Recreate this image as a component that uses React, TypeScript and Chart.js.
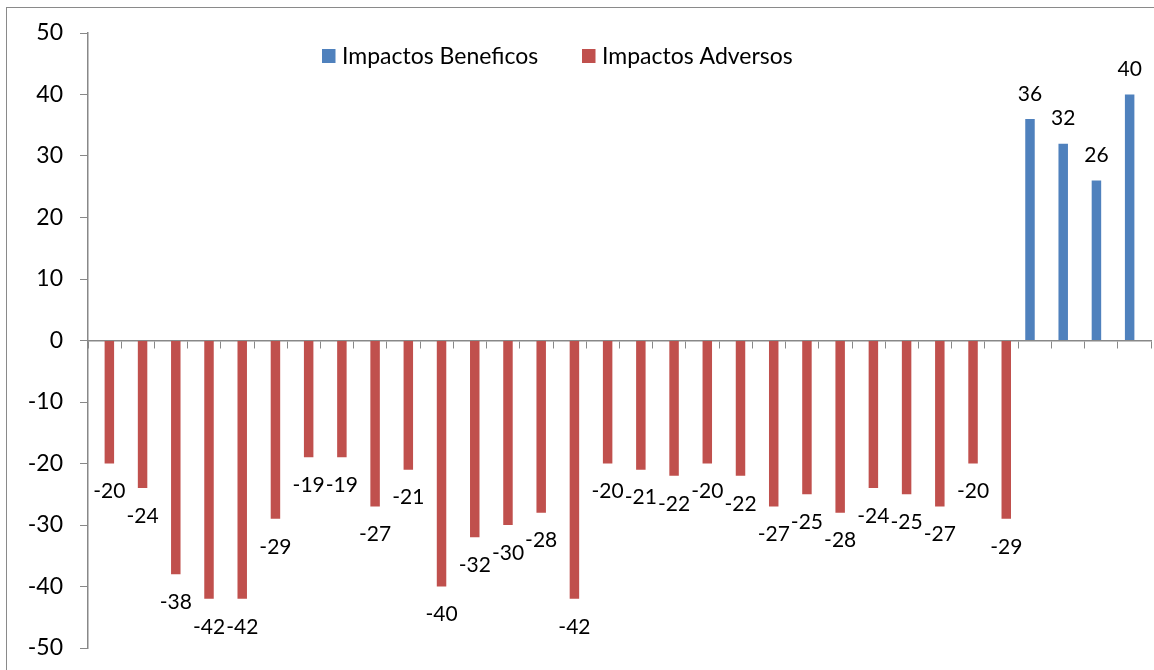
import React, { useEffect, useRef } from "react";
import { Chart, registerables } from "chart.js";

Chart.register(...registerables);

const categories: string[] = Array.from({ length: 32 }, (_, i) => `${i + 1}`);
const beneficos: (number | null)[] = [
  null, null, null, null, null, null, null, null, null, null, null, null, null, null,
  null, null, null, null, null, null, null, null, null, null, null, null, null, null,
  36, 32, 26, 40,
];
const adversos: (number | null)[] = [
  -20, -24, -38, -42, -42, -29, -19, -19, -27, -21, -40, -32, -30, -28,
  -42, -20, -21, -22, -20, -22, -27, -25, -28, -24, -25, -27, -20, -29,
  null, null, null, null,
];
const seriesNames = ["Impactos Beneficos", "Impactos Adversos"];
const colors = ["#4F81BD", "#C0504D"];
const yMin = -50;
const yMax = 50;
const yStep = 10;

const FONT = "Lato, 'Liberation Sans', sans-serif";

const labelPlugin = {
  id: "valueLabels",
  afterDatasetsDraw(chart: any) {
    const ctx = chart.ctx;
    ctx.save();
    ctx.font = `21px ${FONT}`;
    ctx.fillStyle = "#000";
    ctx.textAlign = "center";
    ctx.textBaseline = "middle";
    chart.data.datasets.forEach((ds: any, di: number) => {
      const meta = chart.getDatasetMeta(di);
      meta.data.forEach((el: any, i: number) => {
        const v = ds.data[i];
        if (v === null || v === undefined) return;
        const y = v < 0 ? el.y + 28 : el.y - 25;
        ctx.fillText(String(v), el.x, y);
      });
    });
    ctx.restore();
  },
};

const legendPlugin = {
  id: "customLegend",
  afterDraw(chart: any) {
    const ctx = chart.ctx;
    ctx.save();
    ctx.font = `23px ${FONT}`;
    ctx.textBaseline = "middle";
    ctx.textAlign = "left";
    const positions = [322, 582];
    seriesNames.forEach((name, i) => {
      const x = positions[i];
      ctx.fillStyle = colors[i];
      ctx.fillRect(x, 49, 13.5, 14);
      ctx.fillStyle = "#000";
      ctx.fillText(name, x + 20, 57);
    });
    ctx.restore();
  },
};

export default function App() {
  const ref = useRef<HTMLCanvasElement | null>(null);
  useEffect(() => {
    if (!ref.current) return;
    const chart = new Chart(ref.current, {
      type: "bar",
      data: {
        labels: categories,
        datasets: [
          {
            label: seriesNames[0],
            data: beneficos,
            backgroundColor: colors[0],
            categoryPercentage: 0.571,
            barPercentage: 1.0,
          },
          {
            label: seriesNames[1],
            data: adversos,
            backgroundColor: colors[1],
            categoryPercentage: 0.571,
            barPercentage: 1.0,
          },
        ],
      },
      options: {
        animation: false,
        responsive: false,
        maintainAspectRatio: false,
        layout: { padding: { left: 0, top: 33, right: 3, bottom: 22 } },
        plugins: {
          legend: { display: false },
          tooltip: { enabled: false },
        },
        scales: {
          x: {
            position: { y: 0 } as any,
            ticks: { display: false },
            grid: {
              drawOnChartArea: false,
              drawTicks: true,
              tickLength: 7,
              color: "#888888",
              offset: true,
            },
            border: { display: true, color: "#888888", width: 1.5 },
            afterFit: (s: any) => {
              s.height = 0;
              s.paddingTop = 0;
              s.paddingBottom = 0;
            },
          },
          y: {
            min: yMin,
            max: yMax,
            ticks: {
              stepSize: yStep,
              color: "#000",
              font: { family: FONT, size: 23 },
              padding: 17,
            },
            grid: {
              drawOnChartArea: false,
              drawTicks: true,
              tickLength: 8,
              color: "#888888",
            },
            border: { display: true, color: "#888888", width: 1.5 },
            afterFit: (s: any) => {
              s.width = 88;
              s.paddingTop = 0;
              s.paddingBottom = 0;
            },
          },
        },
      },
      plugins: [labelPlugin, legendPlugin],
    });
    return () => chart.destroy();
  }, []);

  return (
    <div
      style={{
        position: "fixed",
        left: 0,
        top: 0,
        width: 1154,
        height: 670,
        overflow: "hidden",
        background: "#fff",
      }}
    >
      <div
        style={{
          position: "absolute",
          left: 6,
          top: 7,
          width: 1300,
          height: 800,
          borderLeft: "1.5px solid #8a8a8a",
          borderTop: "1.5px solid #8a8a8a",
        }}
      />
      <canvas
        ref={ref}
        width={1154}
        height={670}
        style={{ position: "absolute", left: 0, top: 0, width: 1154, height: 670 }}
      />
    </div>
  );
}
